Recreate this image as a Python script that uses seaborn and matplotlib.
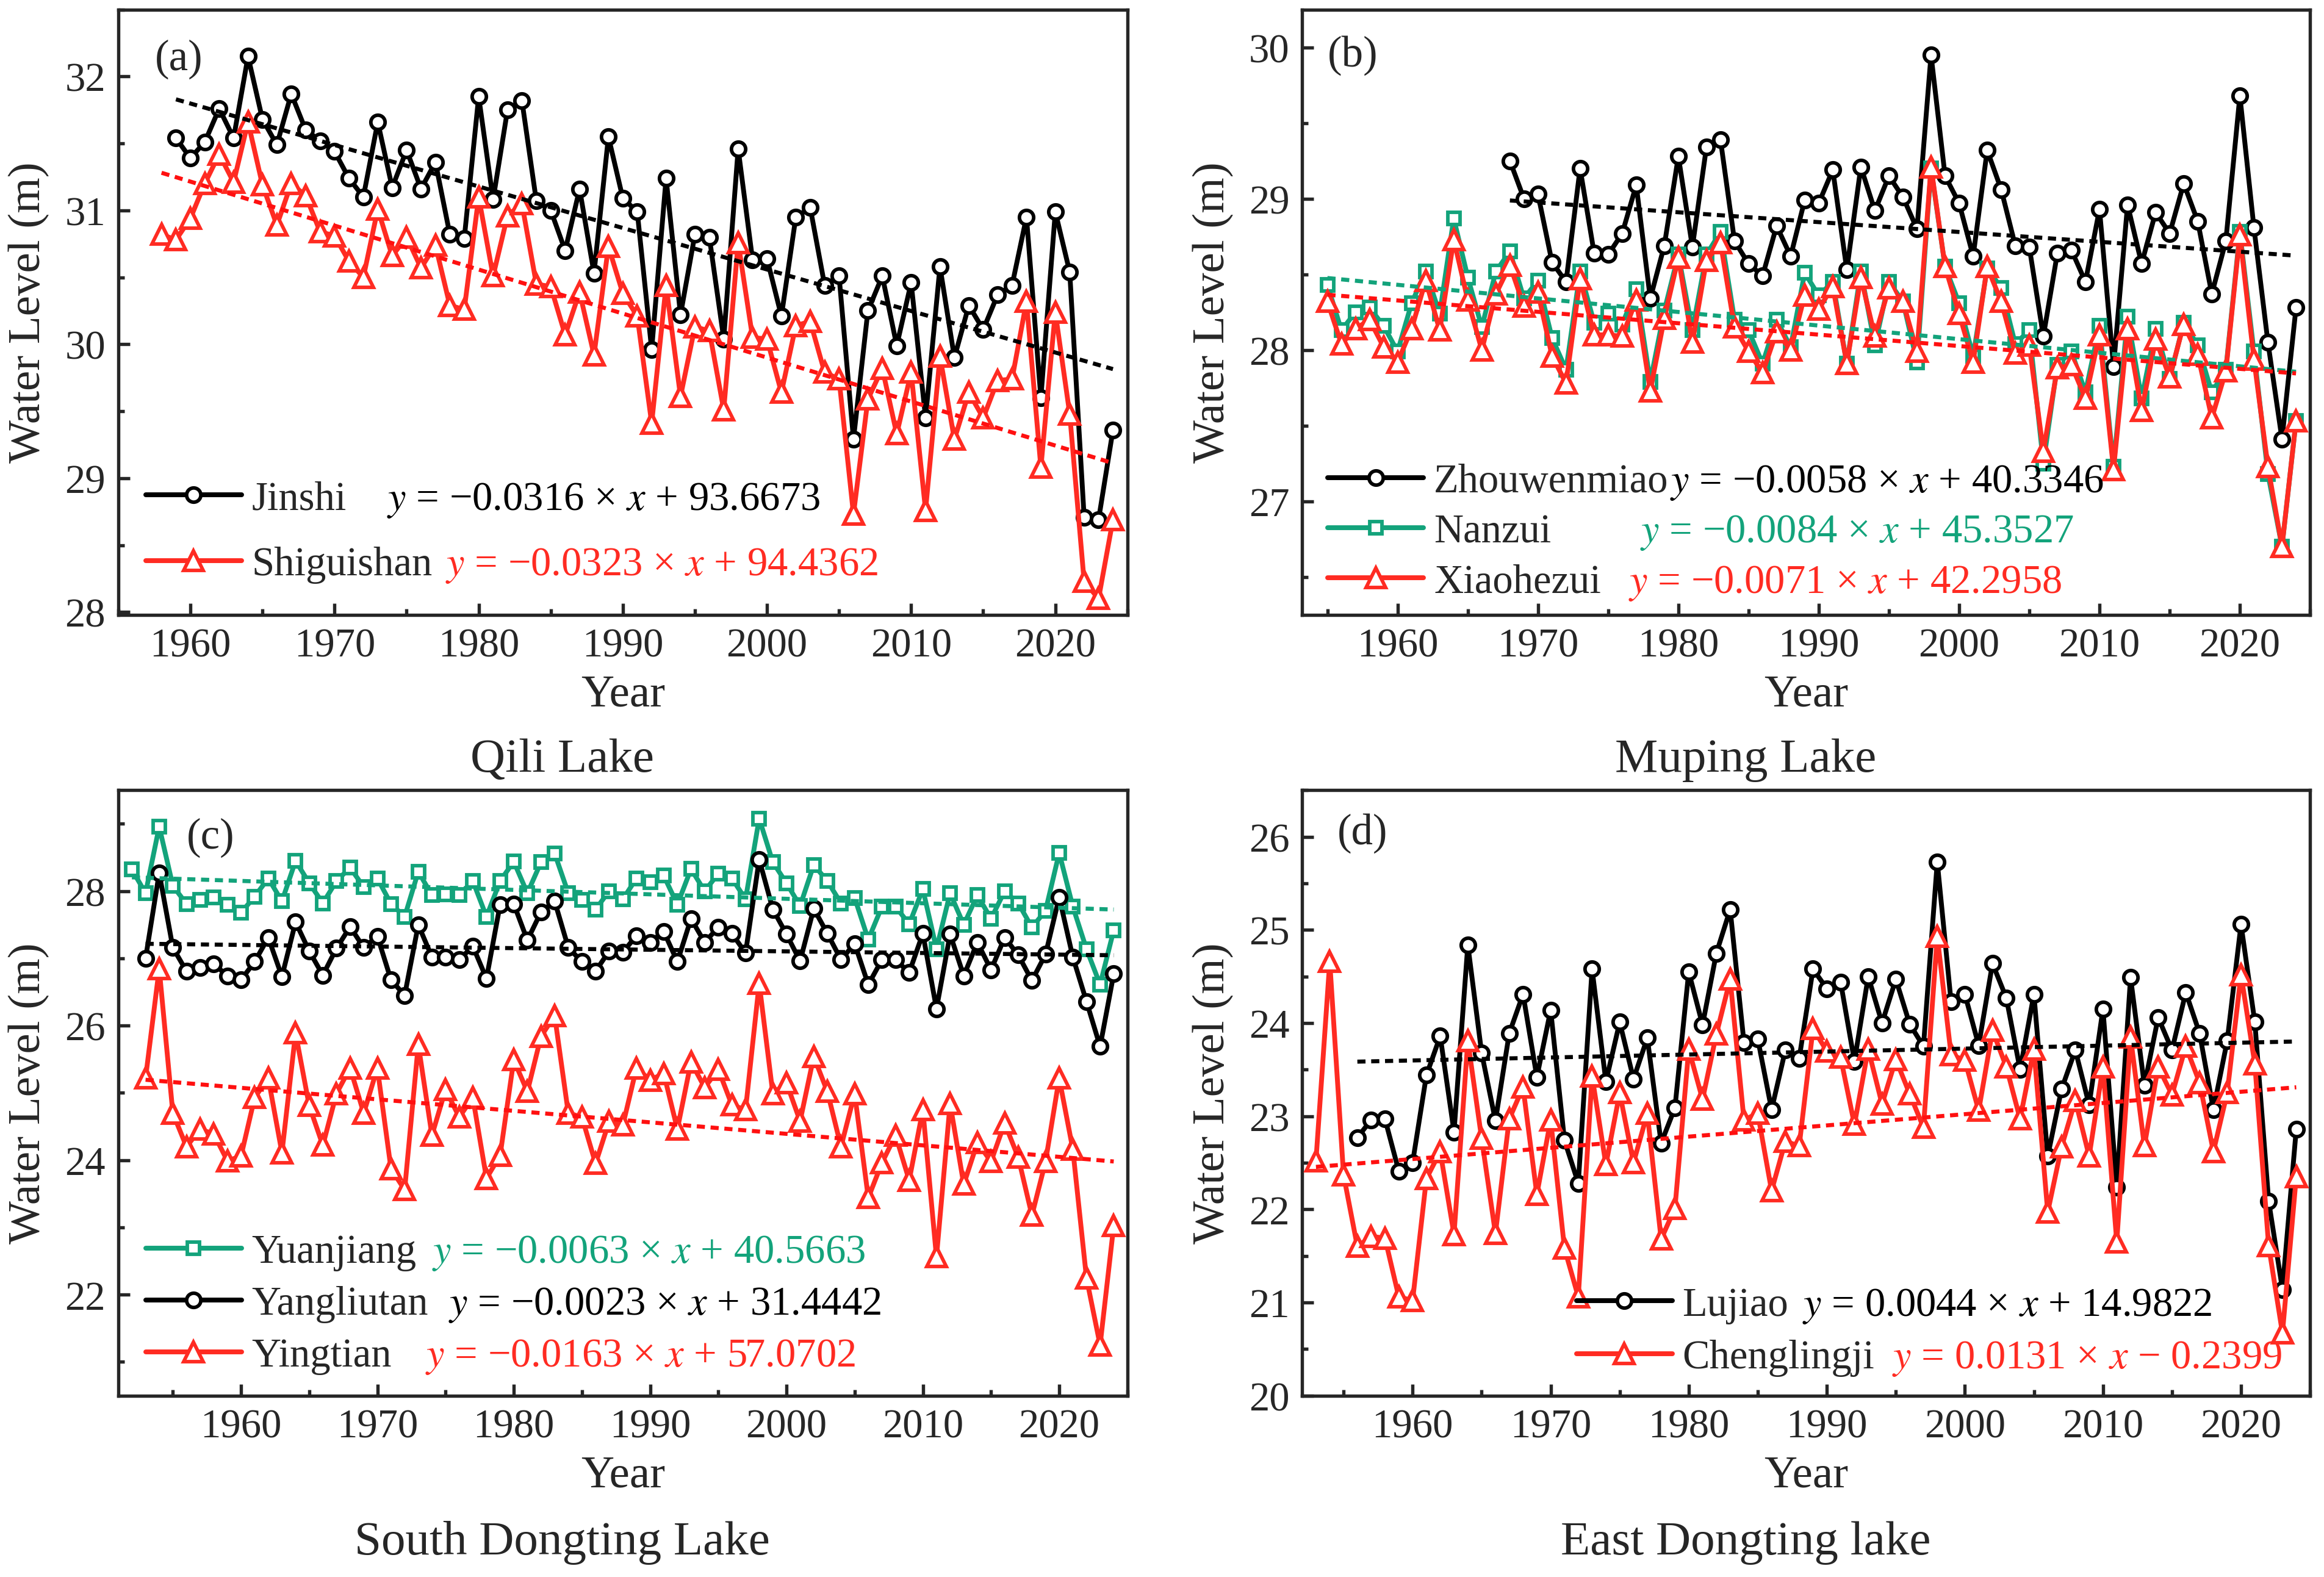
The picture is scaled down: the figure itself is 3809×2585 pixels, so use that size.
import matplotlib

matplotlib.use("Agg")
import matplotlib.pyplot as plt  # noqa: E402
import numpy as np  # noqa: E402
import seaborn as sns  # noqa: E402
from matplotlib.ticker import MultipleLocator  # noqa: E402

# ── data (annual water level, m) ──
jinshi_start = 1959
jinshi = [31.54, 31.39, 31.51, 31.76, 31.54, 32.15, 31.68, 31.49, 31.87, 31.60, 31.52, 31.44, 31.24, 31.10,
          31.66, 31.17, 31.45, 31.16, 31.36, 30.82, 30.79, 31.85, 31.08, 31.75, 31.82, 31.07, 31.00, 30.70,
          31.16, 30.53, 31.55, 31.09, 30.99, 29.96, 31.24, 30.22, 30.82, 30.80, 30.04, 31.46, 30.63, 30.64,
          30.21, 30.95, 31.02, 30.44, 30.51, 29.29, 30.25, 30.51, 29.99, 30.46, 29.45, 30.58, 29.90, 30.29,
          30.11, 30.37, 30.44, 30.95, 29.60, 30.99, 30.54, 28.71, 28.69, 29.36]
shiguishan_start = 1958
shiguishan = [30.82, 30.78, 30.94, 31.20, 31.42, 31.21, 31.66, 31.19, 30.89, 31.20, 31.11, 30.84, 30.81, 30.62,
              30.50, 31.01, 30.66, 30.80, 30.57, 30.74, 30.29, 30.26, 31.10, 30.51, 30.96, 31.05, 30.45, 30.43,
              30.07, 30.39, 29.92, 30.73, 30.38, 30.21, 29.41, 30.44, 29.61, 30.13, 30.10, 29.51, 30.76, 30.05,
              30.04, 29.64, 30.14, 30.17, 29.79, 29.74, 28.73, 29.59, 29.82, 29.33, 29.79, 28.76, 29.91, 29.29,
              29.64, 29.45, 29.73, 29.74, 30.32, 29.08, 30.24, 29.48, 28.23, 28.10, 28.69]

zhouwenmiao_start = 1968
zhouwenmiao = [29.25, 29.00, 29.03, 28.58, 28.45, 29.20, 28.64, 28.63, 28.77, 29.09, 28.34, 28.69, 29.28, 28.68,
               29.34, 29.39, 28.72, 28.57, 28.49, 28.82, 28.62, 28.99, 28.97, 29.19, 28.53, 29.21, 28.92, 29.15,
               29.01, 28.80, 29.95, 29.15, 28.97, 28.62, 29.32, 29.06, 28.69, 28.68, 28.09, 28.64, 28.66, 28.45,
               28.93, 27.89, 28.96, 28.57, 28.91, 28.77, 29.10, 28.85, 28.37, 28.72, 29.68, 28.81, 28.05, 27.41,
               28.28]
nanzui_start = 1955
nanzui = [28.43, 28.13, 28.25, 28.28, 28.16, 27.99, 28.31, 28.52, 28.24, 28.87, 28.48, 28.15, 28.52, 28.65,
          28.34, 28.46, 28.08, 27.87, 28.52, 28.18, 28.24, 28.17, 28.40, 27.79, 28.26, 28.63, 28.13, 28.63,
          28.78, 28.20, 28.13, 27.91, 28.20, 28.02, 28.51, 28.36, 28.45, 27.91, 28.52, 28.03, 28.45, 28.32,
          27.92, 29.20, 28.55, 28.31, 27.96, 28.54, 28.41, 28.04, 28.13, 27.25, 27.90, 27.99, 27.72, 28.16,
          27.23, 28.22, 27.68, 28.14, 27.81, 28.18, 28.03, 27.72, 27.87, 28.78, 27.99, 27.18, 26.70, 27.53]
xiaohezui_start = 1955
xiaohezui = [28.32, 28.04, 28.14, 28.20, 28.02, 27.92, 28.14, 28.46, 28.13, 28.73, 28.33, 28.00, 28.37, 28.56,
             28.29, 28.38, 27.96, 27.78, 28.47, 28.10, 28.10, 28.09, 28.33, 27.73, 28.21, 28.61, 28.05, 28.59,
             28.71, 28.15, 27.99, 27.85, 28.12, 28.00, 28.36, 28.27, 28.42, 27.91, 28.48, 28.09, 28.41, 28.32,
             27.99, 29.21, 28.55, 28.24, 27.92, 28.55, 28.32, 27.98, 28.03, 27.33, 27.88, 27.90, 27.68, 28.10,
             27.21, 28.14, 27.60, 28.07, 27.82, 28.17, 27.97, 27.55, 27.86, 28.76, 27.94, 27.23, 26.70, 27.53]

yuanjiang_start = 1952
yuanjiang = [28.32, 27.97, 28.96, 28.08, 27.81, 27.87, 27.91, 27.80, 27.68, 27.92, 28.19, 27.85, 28.45, 28.12,
             27.82, 28.15, 28.35, 28.06, 28.19, 27.81, 27.62, 28.29, 27.94, 27.95, 27.94, 28.15, 27.62, 28.15,
             28.44, 27.97, 28.43, 28.56, 27.97, 27.87, 27.73, 28.00, 27.88, 28.19, 28.13, 28.23, 27.80, 28.33,
             28.00, 28.26, 28.19, 27.88, 29.08, 28.43, 28.12, 27.78, 28.39, 28.15, 27.82, 27.90, 27.28, 27.77,
             27.77, 27.51, 28.03, 27.14, 27.97, 27.50, 27.94, 27.59, 28.00, 27.82, 27.46, 27.71, 28.57, 27.77,
             27.14, 26.61, 27.42]
yangliutan_start = 1953
yangliutan = [27.00, 28.27, 27.16, 26.81, 26.86, 26.92, 26.74, 26.68, 26.95, 27.31, 26.73, 27.54, 27.11, 26.75,
              27.15, 27.47, 27.16, 27.33, 26.68, 26.45, 27.50, 27.02, 27.02, 26.98, 27.18, 26.70, 27.80, 27.81,
              27.27, 27.69, 27.85, 27.16, 26.95, 26.81, 27.11, 27.09, 27.34, 27.24, 27.40, 26.95, 27.59, 27.24,
              27.46, 27.37, 27.08, 28.47, 27.73, 27.36, 26.96, 27.74, 27.37, 26.98, 27.22, 26.61, 26.98, 26.98,
              26.79, 27.37, 26.25, 27.36, 26.74, 27.24, 26.83, 27.31, 27.05, 26.67, 27.06, 27.91, 27.02, 26.36,
              25.69, 26.77]
yingtian_start = 1953
yingtian = [25.22, 26.85, 24.70, 24.20, 24.46, 24.39, 23.99, 24.06, 24.93, 25.22, 24.11, 25.89, 24.81, 24.22,
            24.99, 25.37, 24.70, 25.37, 23.87, 23.56, 25.72, 24.37, 25.05, 24.64, 24.93, 23.73, 24.07, 25.49,
            25.02, 25.84, 26.15, 24.70, 24.64, 23.95, 24.58, 24.52, 25.37, 25.19, 25.29, 24.46, 25.46, 25.08,
            25.35, 24.82, 24.75, 26.63, 24.99, 25.15, 24.58, 25.54, 25.02, 24.20, 24.99, 23.44, 23.96, 24.37,
            23.70, 24.75, 22.56, 24.84, 23.64, 24.26, 23.98, 24.55, 24.04, 23.18, 23.98, 25.22, 24.16, 22.25,
            21.25, 23.03]

lujiao_start = 1956
lujiao = [22.77, 22.96, 22.97, 22.41, 22.50, 23.44, 23.86, 22.83, 24.84, 23.68, 22.95, 23.89, 24.31, 23.42,
          24.14, 22.74, 22.28, 24.58, 23.37, 24.01, 23.40, 23.84, 22.71, 23.09, 24.55, 23.98, 24.75, 25.22,
          23.79, 23.83, 23.07, 23.71, 23.62, 24.58, 24.37, 24.44, 23.59, 24.50, 24.00, 24.47, 23.99, 23.75,
          25.73, 24.23, 24.31, 23.76, 24.64, 24.27, 23.50, 24.31, 22.57, 23.29, 23.71, 23.12, 24.15, 22.24,
          24.49, 23.33, 24.06, 23.71, 24.33, 23.89, 23.07, 23.81, 25.06, 24.01, 22.09, 21.14, 22.86]
chenglingji_start = 1953
chenglingji = [22.52, 24.66, 22.37, 21.60, 21.71, 21.69, 21.06, 21.02, 22.33, 22.62, 21.73, 23.81, 22.76, 21.74,
               22.97, 23.31, 22.16, 22.96, 21.58, 21.06, 23.43, 22.48, 23.25, 22.50, 23.03, 21.68, 22.01, 23.72,
               23.18, 23.88, 24.47, 22.96, 23.03, 22.20, 22.73, 22.68, 23.94, 23.70, 23.63, 22.91, 23.72, 23.13,
               23.61, 23.24, 22.88, 24.93, 23.66, 23.60, 23.06, 23.92, 23.53, 22.97, 23.72, 21.97, 22.67, 23.17,
               22.57, 23.53, 21.65, 23.85, 22.68, 23.53, 23.23, 23.75, 23.36, 22.62, 23.25, 24.52, 23.56, 21.61,
               20.67, 22.35]

# fitted equations as printed on the chart (slope, intercept)
eq_jinshi = (-0.0316, 93.6673)
eq_shiguishan = (-0.0323, 94.4362)
eq_zhouwenmiao = (-0.0058, 40.3346)
eq_nanzui = (-0.0084, 45.3527)
eq_xiaohezui = (-0.0071, 42.2958)
eq_yuanjiang = (-0.0063, 40.5663)
eq_yangliutan = (-0.0023, 31.4442)
eq_yingtian = (-0.0163, 57.0702)
eq_lujiao = (0.0044, 14.9822)
eq_chenglingji = (0.0131, -0.2399)

panel_titles = ["Qili Lake", "Muping Lake", "South Dongting Lake", "East Dongting lake"]
panel_tags = ["(a)", "(b)", "(c)", "(d)"]

BLACK = "#000000"
RED = "#FF2B22"
GREEN = "#13A37B"
TREND = {BLACK: "#000000", RED: "#FF1010", GREEN: "#13A37B"}
MARK = {"o": 5.6, "s": 4.8, "^": 7.8}

sns.set_theme(style="ticks", rc={
    "axes.linewidth": 1.3,
    "xtick.direction": "in", "ytick.direction": "in",
    "xtick.major.size": 4.5, "ytick.major.size": 4.5,
    "xtick.minor.size": 2.5, "ytick.minor.size": 2.5,
    "xtick.major.width": 1.3, "ytick.major.width": 1.3,
    "xtick.minor.width": 1.3, "ytick.minor.width": 1.3,
    "xtick.major.pad": 5, "ytick.major.pad": 5,
    "mathtext.fontset": "stix",
})
plt.rcParams["font.family"] = ["Liberation Serif", "DejaVu Serif"]


def eq_text(eq):
    k, b = eq
    ks = f"{'−' if k < 0 else ''}{abs(k):.4f}"
    op = "−" if b < 0 else "+"
    return f"$y$ = {ks} × $x$ {op} {abs(b):.4f}"


panels = [
    dict(pos=[0.0509, 0.6099, 0.4342, 0.3837], xlim=(1955, 2025), ylim=(27.98, 32.5), ymaj=1, ymin=0.5,
         leg_x=0.027, leg_y=0.137, spacing=0.7, tag_xy=(0.036, 0.919),
         series=[("Jinshi", jinshi_start, jinshi, BLACK, "o", eq_jinshi, BLACK, 0.266),
                 ("Shiguishan", shiguishan_start, shiguishan, RED, "^", eq_shiguishan, RED, 0.324)]),
    dict(pos=[0.5603, 0.6099, 0.4337, 0.3837], xlim=(1953.2, 2025), ylim=(26.25, 30.25), ymaj=1, ymin=0.5,
         leg_x=0.0254, leg_y=0.137, spacing=0.32, tag_xy=(0.025, 0.925),
         series=[("Zhouwenmiao", zhouwenmiao_start, zhouwenmiao, BLACK, "o", eq_zhouwenmiao, BLACK, 0.365),
                 ("Nanzui", nanzui_start, nanzui, GREEN, "s", eq_nanzui, GREEN, 0.335),
                 ("Xiaohezui", xiaohezui_start, xiaohezui, RED, "^", eq_xiaohezui, RED, 0.324)]),
    dict(pos=[0.0509, 0.1150, 0.4342, 0.3837], xlim=(1951, 2025), ylim=(20.5, 29.5), ymaj=2, ymin=1,
         leg_x=0.027, leg_y=0.151, spacing=0.36, tag_xy=(0.068, 0.922),
         series=[("Yuanjiang", yuanjiang_start, yuanjiang, GREEN, "s", eq_yuanjiang, GREEN, 0.311),
                 ("Yangliutan", yangliutan_start, yangliutan, BLACK, "o", eq_yangliutan, BLACK, 0.327),
                 ("Yingtian", yingtian_start, yingtian, RED, "^", eq_yingtian, RED, 0.304)]),
    dict(pos=[0.5603, 0.1150, 0.4337, 0.3837], xlim=(1952, 2025), ylim=(20, 26.5), ymaj=1, ymin=0.5,
         leg_x=0.272, leg_y=0.106, spacing=0.38, tag_xy=(0.035, 0.930),
         series=[("Lujiao", lujiao_start, lujiao, BLACK, "o", eq_lujiao, BLACK, 0.496),
                 ("Chenglingji", chenglingji_start, chenglingji, RED, "^", eq_chenglingji, RED, 0.585)]),
]

fig = plt.figure(figsize=(3809 / 300, 2586 / 300), dpi=300)
legends = []
for p, title, tag in zip(panels, panel_titles, panel_tags):
    ax = fig.add_axes(p["pos"])
    handles = []
    for name, start, vals, color, marker, _, _, _ in p["series"]:
        yrs = np.arange(start, start + len(vals))
        sns.lineplot(x=yrs, y=vals, ax=ax, color=color, lw=1.9, marker=marker, ms=MARK[marker],
                     mfc="white", mec=color, mew=1.4, label=name, zorder=3)
        handles.append(ax.lines[-1])
    for name, start, vals, color, marker, _, _, _ in p["series"]:
        yrs = np.arange(start, start + len(vals))
        sns.regplot(x=yrs, y=vals, ax=ax, scatter=False, ci=None, color=TREND[color],
                    line_kws=dict(lw=1.6, ls=(0, (2.0, 1.4)), zorder=5))
    ax.set_xlim(*p["xlim"])
    ax.set_ylim(*p["ylim"])
    ax.xaxis.set_major_locator(MultipleLocator(10))
    ax.xaxis.set_minor_locator(MultipleLocator(5))
    ax.yaxis.set_major_locator(MultipleLocator(p["ymaj"]))
    ax.yaxis.set_minor_locator(MultipleLocator(p["ymin"]))
    ax.tick_params(labelsize=16)
    ax.set_xlabel("Year", fontsize=18, labelpad=3.7)
    ax.set_ylabel("Water Level (m)", fontsize=18, labelpad=6)
    ax.text(*p["tag_xy"], tag, transform=ax.transAxes, fontsize=17, va="center", ha="left")
    leg = ax.legend(handles=handles, labels=[s[0] for s in p["series"]], loc="center left",
                    bbox_to_anchor=(p["leg_x"], p["leg_y"]), borderpad=0, borderaxespad=0,
                    handlelength=2.36, handletextpad=0.25, labelspacing=p["spacing"],
                    frameon=False, fontsize=16)
    legends.append((ax, leg, p["series"]))
    x_mid = p["pos"][0] + p["pos"][2] / 2 - 0.026
    y_title = 0.518 if p["pos"][1] > 0.5 else 0.022
    fig.text(x_mid, y_title, title, ha="center", va="center", fontsize=19)

# equations aligned on the legend text baselines
fig.canvas.draw()
for ax, leg, series in legends:
    for txt, s in zip(leg.get_texts(), series):
        base = txt.get_transform().transform(txt.get_position())
        y_ax = ax.transAxes.inverted().transform(base)[1]
        ax.text(s[7], y_ax, eq_text(s[5]), color=s[6], transform=ax.transAxes,
                fontsize=16, va="baseline", ha="left")

fig.savefig("out.png", dpi=300)
plt.close(fig)
